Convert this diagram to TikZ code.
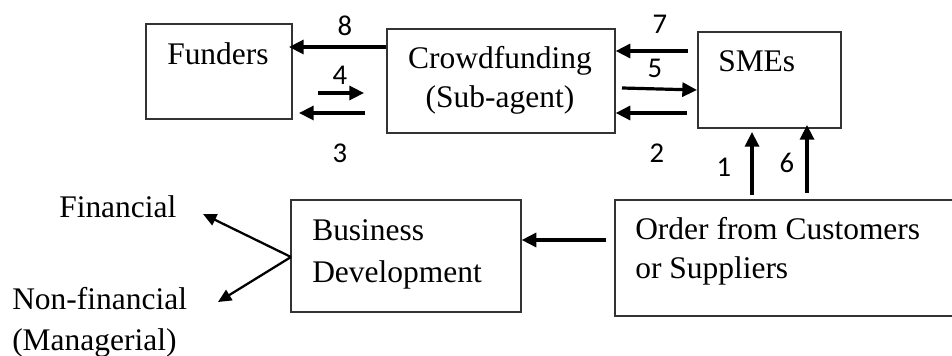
\documentclass[tikz,border=0pt]{standalone}
\usepackage{fontspec}
\setmainfont{Liberation Serif}
\newfontfamily\numfont{Carlito}
\usetikzlibrary{arrows.meta,fit}
\begin{document}
\begin{tikzpicture}[x=0.75pt,y=-0.75pt,
  box/.style={draw=black!80,line width=1pt,inner sep=0pt,fit={#1}},
  txt/.style={font=\fontsize{23.6}{28}\selectfont,inner sep=0pt},
  num/.style={font=\numfont\fontsize{21.5}{24}\selectfont,inner sep=0pt,anchor=center},
  arr/.style={line width=2.4pt,-{Triangle[length=11pt,width=10.5pt]}},
  thinarr/.style={line width=1.7pt,-{Triangle[length=10pt,width=9pt]}}]
\useasboundingbox (0,0) rectangle (952,356);
\clip (0,0) rectangle (952,356);
% boxes
\node[box={(146,24) (292,119)}] (funders) {};
\node[box={(387,29) (615,133)}] (crowd) {};
\node[box={(698,32) (841,128)}] (smes) {};
\node[box={(291,200) (521,312)}] (busdev) {};
\node[box={(615,200) (965,316)}] (order) {};
% texts
\node[txt,anchor=base west] (tFunders) at (167,65) {Funders};
\node[txt,anchor=base] (tCrowd1) at (500,69) {Crowdfunding};
\node[txt,anchor=base] (tCrowd2) at (500,108) {(Sub-agent)};
\node[txt,anchor=base west] (tSmes) at (718,72) {SMEs};
\node[txt,anchor=base west] (tBus1) at (312,240) {Business};
\node[txt,anchor=base west] (tBus2) at (312,282) {Development};
\node[txt,anchor=base west] (tOrd1) at (635,239) {Order from Customers};
\node[txt,anchor=base west] (tOrd2) at (635,278) {or Suppliers};
\node[txt,anchor=base west] (fin) at (59,217) {Financial};
\node[txt,anchor=base west] (nonfin) at (12,309) {Non-financial};
\node[txt,anchor=base west] (manag) at (12,350) {(Managerial)};
% numbers
\node[num] (n8) at (345,26) {8};
\node[num] (n4) at (340,75) {4};
\node[num] (n3) at (340,153) {3};
\node[num] (n7) at (660,24) {7};
\node[num] (n5) at (655,68) {5};
\node[num] (n2) at (657,153) {2};
\node[num] (n1) at (724,167) {1};
\node[num] (n6) at (787,163) {6};
% free arrow ends
\coordinate (a4s) at (318,93);
\coordinate (a4e) at (364,93);
\coordinate (a3s) at (365,113);
\coordinate (a3e) at (299,113);
\coordinate (a7s) at (688,51);
\coordinate (a2s) at (687,113);
\coordinate (a5s) at (622,88);
\coordinate (a1s) at (752,195);
\coordinate (a1e) at (752,132);
\coordinate (a6s) at (807,193);
\coordinate (a6e) at (807,125);
\coordinate (ords) at (606,240);
\coordinate (finE) at (203,214);
\coordinate (nonE) at (218,302);
\coordinate (bsrc) at (291,257);
% arrows
\draw[arr] (crowd.west |- 0,47) -- (289,47);
\draw[arr] (a4s) -- (a4e);
\draw[arr] (a3s) -- (a3e);
\draw[arr] (a7s) -- (crowd.east |- a7s);
\draw[arr] (a5s) -- (697,90);
\draw[arr] (a2s) -- (crowd.east |- a2s);
\draw[arr] (a1s) -- (a1e);
\draw[arr] (a6s) -- (a6e);
\draw[arr] (ords) -- (busdev.east |- ords);
\draw[thinarr] (bsrc) -- (finE);
\draw[thinarr] (bsrc) -- (nonE);
\end{tikzpicture}
\end{document}
